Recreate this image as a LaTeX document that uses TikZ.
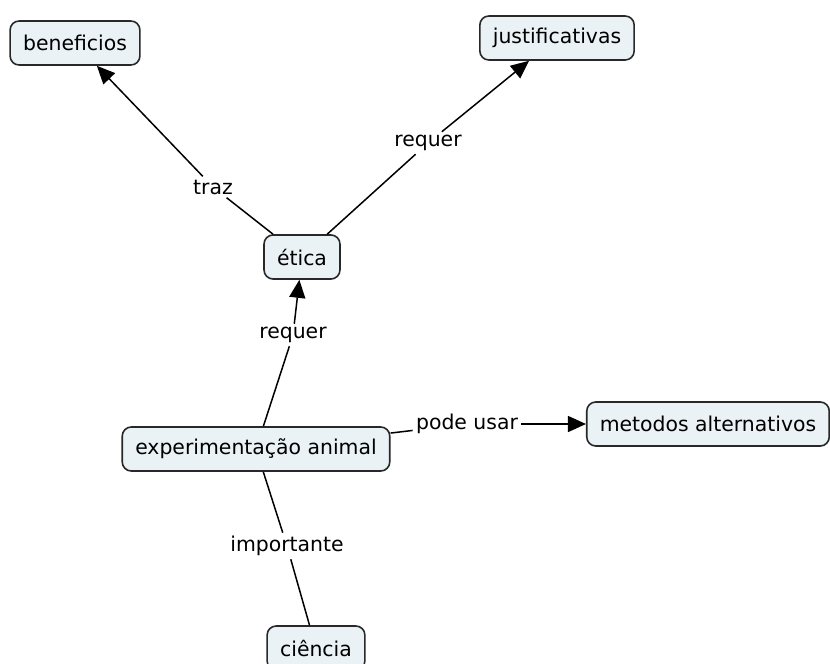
\documentclass[tikz,border=0pt]{standalone}
\usepackage{fontspec}
\setmainfont{DejaVu Sans}
\usetikzlibrary{arrows.meta}

\definecolor{conceptfill}{RGB}{234,242,245}
\definecolor{conceptline}{RGB}{40,40,40}

\tikzset{
    concept/.style={draw=conceptline, fill=conceptfill, line width=0.8pt, rounded corners=4.5pt,
        minimum height=22pt, inner xsep=6.5pt, font=\fontsize{10.2}{12}\selectfont},
    linkword/.style={inner sep=1.5pt, font=\fontsize{10.2}{12}\selectfont},
    link/.style={line width=0.75pt, draw=black},
    linkarrow/.style={link, -{Triangle[length=9pt, width=8pt]}},
}

\begin{document}
\begin{tikzpicture}[x=0.5pt, y=-0.5pt]
        \useasboundingbox (0, 0) rectangle (830, 664);

        % concepts
        \node[concept] (beneficios) at (75, 43) {beneficios};
        \node[concept] (justificativas) at (557, 38) {justificativas};
        \node[concept] (etica) at (302, 257) {ética};
        \node[concept] (experimentacao) at (256, 449) {experimentação animal};
        \node[concept] (metodos) at (708, 424) {metodos alternativos};
        \node[concept] (ciencia) at (316, 648) {ciência};

        % linking words
        \node[linkword] (traz) at (213, 187) {traz};
        \node[linkword] (requerA) at (428, 143) {requer};
        \node[linkword] (requerB) at (293, 335) {requer};
        \node[linkword] (podeusar) at (467, 424) {pode usar};
        \node[linkword] (importante) at (287, 546) {importante};

        % connections
        \draw[link] (etica) -- (traz);
        \draw[linkarrow] (traz) -- (beneficios);
        \draw[link] (etica) -- (requerA);
        \draw[linkarrow] (requerA) -- (justificativas);
        \draw[link] (experimentacao) -- (requerB);
        \draw[linkarrow] (requerB) -- (etica);
        \draw[link] (experimentacao) -- (podeusar);
        \draw[linkarrow] (podeusar) -- (metodos);
        \draw[link] (experimentacao) -- (importante);
        \draw[link] (importante) -- (ciencia);
    \end{tikzpicture}
\end{document}
